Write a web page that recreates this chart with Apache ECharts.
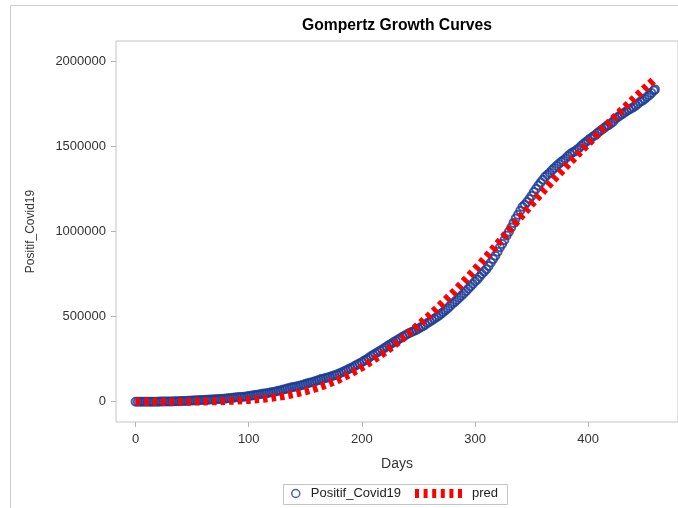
<!DOCTYPE html>
<html>
<head>
<meta charset="utf-8">
<script src="https://cdn.jsdelivr.net/npm/echarts@6/dist/echarts.min.js"></script>
<style>
html,body{margin:0;padding:0;background:#fff;}
#chart{width:678px;height:508px;}
</style>
</head>
<body>
<div id="chart"></div>
<script>
const titleText = 'Gompertz Growth Curves';
const xAxisName = 'Days';
const yAxisName = 'Positif_Covid19';
const obsName = 'Positif_Covid19';
const predName = 'pred';
const xTicks = [0, 100, 200, 300, 400];
const yTicks = [0, 500000, 1000000, 1500000, 2000000];

const obsDay = [0,2,4,6,8,10,12,14,16,18,20,22,24,26,28,30,32,34,36,38,40,42,44,46,48,50,52,54,56,58,60,62,64,66,68,70,72,74,76,78,80,82,84,86,88,90,92,94,96,98,100,102,104,106,108,110,112,114,116,118,120,122,124,126,128,130,132,134,136,138,140,142,144,146,148,150,152,154,156,158,160,162,164,166,168,170,172,174,176,178,180,182,184,186,188,190,192,194,196,198,200,202,204,206,208,210,212,214,216,218,220,222,224,226,228,230,232,234,236,238,240,242,244,246,248,250,252,254,256,258,260,262,264,266,268,270,272,274,276,278,280,282,284,286,288,290,292,294,296,298,300,302,304,306,308,310,312,314,316,318,320,322,324,326,328,330,332,334,336,338,340,342,344,346,348,350,352,354,356,358,360,362,364,366,368,370,372,374,376,378,380,382,384,386,388,390,392,394,396,398,400,402,404,406,408,410,412,414,416,418,420,422,424,426,428,430,432,434,436,438,440,442,444,446,448,450,452,454,456,458,459];
const obsVal = [2,2,2,4,6,27,69,117,172,309,450,579,790,1046,1285,1528,1790,2092,2491,2956,3512,4241,4839,5516,6248,6760,7418,8211,8882,9511,10118,10843,11587,12438,13112,14032,14749,15438,16496,17514,19189,20162,21745,23165,24538,25773,27549,28233,29521,31186,33076,35295,37420,39294,41431,43803,46845,48691,50187,52812,55092,57770,60695,63749,66226,70736,73908,76981,80094,84882,86521,89869,92671,95418,100303,104432,108376,111455,115056,118753,123503,127083,132816,135123,139549,143043,147211,151498,155412,160165,165887,172053,177571,184268,190665,196989,203342,210940,218382,225030,232628,240687,248852,257388,266845,275213,283566,291182,299506,307120,315714,324658,333449,340622,349160,357762,365240,373109,381910,389712,396454,404048,410088,415402,422386,428863,437716,444348,452291,463007,470648,478720,488310,496524,506302,516753,527999,538883,549508,563680,575796,586842,598933,611631,623309,636154,650197,664930,678125,692838,706837,719219,735124,751270,765350,779548,797723,818386,838718,858043,882418,907929,927380,951651,977474,999256,1024298,1051795,1078314,1099687,1123105,1147010,1157837,1174779,1191990,1210925,1233959,1252685,1271353,1288833,1306141,1322866,1334634,1347026,1361098,1373836,1386556,1398578,1410134,1419455,1430458,1443853,1455788,1465928,1471225,1482559,1492002,1505775,1517854,1527524,1537967,1548985,1558145,1566995,1578734,1589359,1599763,1609300,1620569,1626812,1636792,1647138,1662868,1672880,1681837,1691658,1700058,1709762,1717025,1724683,1731652,1741761,1753101,1764644,1769940,1781127,1792437,1803361,1816041,1830603,1837126];

const predDay = [0,10,20,30,40,50,60,70,80,90,100,110,120,130,140,150,160,170,180,190,200,210,220,230,240,250,260,270,280,290,300,310,320,330,340,350,360,370,380,390,400,410,420,430,440,450,459];
const predVal = [20,50,110,220,440,840,1510,2610,4330,6910,10670,15980,23240,32890,45400,61220,80660,104300,132400,165100,202400,244800,291000,341000,394000,450000,509000,572000,637000,706000,778000,852000,929000,1007000,1085000,1162000,1237000,1310000,1381000,1450000,1518000,1585000,1651000,1716000,1780000,1843000,1898000];

const FONT = '"Liberation Sans", Arial, sans-serif';
const obsData = obsDay.map((d, i) => [d, obsVal[i]]);
const predData = predDay.map((d, i) => [d, predVal[i]]);

const chart = echarts.init(document.getElementById('chart'), null, {renderer: 'canvas'});
chart.setOption({
  animation: false,
  backgroundColor: '#ffffff',
  title: {
    text: titleText,
    left: 302, top: 18, padding: 0,
    textStyle: {fontFamily: FONT, fontSize: 15.7, fontWeight: 'bold', color: '#000'}
  },
  grid: {
    left: 116, top: 41, right: -6, bottom: 86,
    show: true, borderColor: '#c4c4c4', borderWidth: 1
  },
  xAxis: {
    type: 'value', min: -17.3, max: 479.4,
    name: xAxisName, nameLocation: 'middle', nameGap: 35,
    nameTextStyle: {fontFamily: FONT, fontSize: 14, color: '#333'},
    axisLine: {show: false, onZero: false},
    axisTick: {show: true, customValues: xTicks, length: 5, lineStyle: {color: '#b4b4b4'}},
    axisLabel: {customValues: xTicks, margin: 11, fontFamily: FONT, fontSize: 13, color: '#333',
      formatter: v => String(v)},
    splitLine: {show: false}
  },
  yAxis: {
    type: 'value', min: -119400, max: 2121800,
    name: yAxisName, nameLocation: 'middle', nameGap: 79,
    nameTextStyle: {fontFamily: FONT, fontSize: 12, color: '#333'},
    axisLine: {show: false, onZero: false},
    axisTick: {show: true, customValues: yTicks, length: 5, lineStyle: {color: '#b4b4b4'}},
    axisLabel: {customValues: yTicks, margin: 10, fontFamily: FONT, fontSize: 13, color: '#333',
      formatter: v => String(v)},
    splitLine: {show: false}
  },
  legend: [
    {
      data: [obsName], left: 291, top: 487, padding: 0,
      itemWidth: 14, itemHeight: 8, icon: 'circle',
      itemStyle: {borderWidth: 1.5},
      textStyle: {fontFamily: FONT, fontSize: 13, color: '#222', padding: [0, 0, 0, 3]}
    },
    {
      data: [predName], left: 415, top: 487, padding: 0,
      itemWidth: 47, itemHeight: 9,
      icon: 'path://M0,0H4V9H0Z M8.6,0H12.6V9H8.6Z M17.2,0H21.2V9H17.2Z M25.8,0H29.8V9H25.8Z M34.4,0H38.4V9H34.4Z M43,0H47V9H43Z',
      textStyle: {fontFamily: FONT, fontSize: 13, color: '#222', padding: [0, 0, 0, 5]}
    }
  ],
  graphic: [
    {type: 'rect', silent: true, shape: {x: 10.5, y: 5.5, width: 720, height: 600},
     style: {fill: 'none', stroke: '#cccccc', lineWidth: 1}},
    {type: 'rect', silent: true, shape: {x: 283.5, y: 484.5, width: 224, height: 20},
     style: {fill: 'none', stroke: '#c4c4c4', lineWidth: 1}}
  ],
  series: [
    {
      name: obsName, type: 'scatter', data: obsData,
      symbol: 'circle', symbolSize: 8,
      itemStyle: {color: 'rgba(255,255,255,0)', borderColor: '#1a3b94', borderWidth: 2},
      z: 2
    },
    {
      name: predName, type: 'line', data: predData,
      showSymbol: false, symbol: 'none',
      itemStyle: {color: '#ff0000'},
      lineStyle: {color: '#ff0000', width: 8, type: [4.5, 4], cap: 'butt'},
      z: 3
    }
  ]
});
</script>
</body>
</html>
